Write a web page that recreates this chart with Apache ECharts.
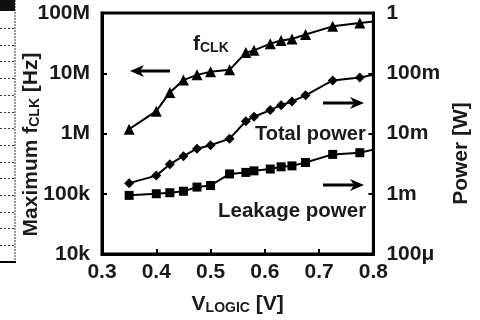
<!DOCTYPE html>
<html>
<head>
<meta charset="utf-8">
<script src="https://cdn.jsdelivr.net/npm/echarts@6/dist/echarts.min.js"></script>
<style>
  html, body { margin: 0; padding: 0; background: #fff; }
  #chart { width: 480px; height: 320px; }
</style>
</head>
<body>
<div id="chart"></div>
<script>
// supply voltage points [V]
const vLogic = [0.35, 0.4, 0.425, 0.45, 0.475, 0.5, 0.535, 0.565, 0.58, 0.61, 0.63, 0.65, 0.675, 0.725, 0.775, 0.8]
// maximum clock frequency [Hz]
const fClk = [1.18e6, 2.35e6, 4.8e6, 7.7e6, 9.4e6, 10.6e6, 11.4e6, 22e6, 24e6, 31e6, 35e6, 37e6, 44e6, 60e6, 68e6, 72e6]
// total power [W]
const totalPower = [1.5e-3, 2.0e-3, 3.1e-3, 4.2e-3, 5.6e-3, 6.4e-3, 8.2e-3, 16e-3, 19e-3, 24.5e-3, 29.5e-3, 34e-3, 43e-3, 76e-3, 85e-3, 94e-3]
// leakage power [W]
const leakPower = [0.94e-3, 1.0e-3, 1.04e-3, 1.1e-3, 1.29e-3, 1.37e-3, 2.13e-3, 2.26e-3, 2.4e-3, 2.57e-3, 2.8e-3, 2.9e-3, 3.3e-3, 4.5e-3, 4.8e-3, 5.4e-3]

// tick labels, one per decade
const fLabels = ['10k', '100k', '1M', '10M', '100M']
const pLabels = ['100μ', '1m', '10m', '100m', '1']

const FONT = 'Liberation Sans, Arial, sans-serif'
const INK = '#1a1a1a'

// build series points; the last point (0.8 V) sits on the frame, no marker
const toPoints = (ys) => vLogic.map((x, i) => {
  if (i === vLogic.length - 1) return { value: [x, ys[i]], symbol: 'none' }
  return [x, ys[i]]
})

const labelStyle = { fontFamily: FONT, fontSize: 21, fontWeight: 'bold', color: INK }
const subRich = {
  sub: { fontFamily: FONT, fontSize: 14, fontWeight: 'bold', color: INK, verticalAlign: 'bottom', padding: [6, 0, 0, 0] }
}

// arrow helper for the annotations
const arrow = (x1, x2, y) => {
  const dir = x2 > x1 ? 1 : -1
  return [
    { type: 'line', shape: { x1: x1, y1: y, x2: x2 - dir * 6, y2: y }, style: { stroke: '#000', lineWidth: 3 } },
    { type: 'polygon', shape: { points: [[x2, y], [x2 - dir * 14, y - 6], [x2 - dir * 10, y], [x2 - dir * 14, y + 6]] }, style: { fill: '#000' } }
  ]
}

// remains of the neighbouring figure at the left edge
const edge = [
  { type: 'rect', shape: { x: 0, y: 0, width: 15, height: 11 }, style: { fill: '#111' } },
  { type: 'line', shape: { x1: 15, y1: 0, x2: 15, y2: 262 }, style: { stroke: '#333', lineWidth: 1, lineDash: [2, 1] } },
  { type: 'line', shape: { x1: 0, y1: 262, x2: 16, y2: 262 }, style: { stroke: '#000', lineWidth: 2 } }
]
for (let k = 0; k < 14; k++) {
  const y = Math.round(28 + k * 16.7) + 0.5
  edge.push({ type: 'line', shape: { x1: 0, y1: y, x2: 15, y2: y }, style: { stroke: '#333', lineWidth: 1, lineDash: [2, 2] } })
}

const chart = echarts.init(document.getElementById('chart'))

chart.setOption({
  animation: false,
  backgroundColor: '#fff',
  grid: {
    left: 102, right: 93, top: 13, bottom: 62,
    show: true, borderColor: '#000', borderWidth: 3
  },
  xAxis: {
    type: 'value',
    min: 0.3, max: 0.8, interval: 0.1,
    axisLine: { lineStyle: { color: '#000', width: 3 } },
    axisTick: { inside: true, length: 5, lineStyle: { color: '#000', width: 2 } },
    splitLine: { show: false },
    axisLabel: Object.assign({ margin: 8, formatter: (v) => v.toFixed(1) }, labelStyle),
    name: 'V{sub|LOGIC} [V]',
    nameLocation: 'middle',
    nameGap: 40,
    nameMoveOverlap: false,
    nameTextStyle: Object.assign({ rich: subRich }, labelStyle)
  },
  yAxis: [
    {
      type: 'log', logBase: 10,
      min: 1e4, max: 1e8,
      position: 'left',
      axisLine: { show: true, lineStyle: { color: '#000', width: 3 } },
      axisTick: { inside: true, length: 5, lineStyle: { color: '#000', width: 2 } },
      minorTick: { show: false },
      splitLine: { show: false },
      axisLabel: Object.assign({ margin: 12, formatter: (v) => fLabels[Math.round(Math.log10(v)) - 4] }, labelStyle),
      name: 'Maximum f{sub|CLK} [Hz]',
      nameLocation: 'middle',
      nameRotate: 90,
      nameGap: 60,
      nameMoveOverlap: false,
      nameTextStyle: Object.assign({ rich: subRich, padding: [0, 22, 0, 0] }, labelStyle)
    },
    {
      type: 'log', logBase: 10,
      min: 1e-4, max: 1,
      position: 'right',
      axisLine: { show: true, lineStyle: { color: '#000', width: 3 } },
      axisTick: { inside: true, length: 5, lineStyle: { color: '#000', width: 2 } },
      minorTick: { show: false },
      splitLine: { show: false },
      axisLabel: Object.assign({ margin: 13, formatter: (v) => pLabels[Math.round(Math.log10(v)) + 4] }, labelStyle),
      name: 'Power [W]',
      nameLocation: 'middle',
      nameRotate: 90,
      nameGap: 62,
      nameTextStyle: Object.assign({ padding: [0, 40, 0, 0] }, labelStyle)
    }
  ],
  series: [
    {
      name: 'fCLK', type: 'line', yAxisIndex: 0,
      symbol: 'triangle', symbolSize: 11,
      lineStyle: { color: '#000', width: 2 },
      itemStyle: { color: '#000' },
      data: toPoints(fClk)
    },
    {
      name: 'Total power', type: 'line', yAxisIndex: 1,
      symbol: 'diamond', symbolSize: 10,
      lineStyle: { color: '#000', width: 2 },
      itemStyle: { color: '#000' },
      data: toPoints(totalPower)
    },
    {
      name: 'Leakage power', type: 'line', yAxisIndex: 1,
      symbol: 'rect', symbolSize: 9,
      lineStyle: { color: '#000', width: 2 },
      itemStyle: { color: '#000' },
      data: toPoints(leakPower)
    }
  ],
  graphic: edge
    .concat(arrow(170, 130, 71))
    .concat(arrow(323, 364, 103))
    .concat(arrow(323, 364, 185))
    .concat([
      {
        type: 'text', left: 193, top: 34,
        style: {
          text: 'f{sub|CLK}', font: 'bold 21px ' + FONT, fill: INK,
          rich: { sub: { font: 'bold 14px ' + FONT, fill: INK, verticalAlign: 'bottom', padding: [6, 0, 0, 0] } }
        }
      },
      { type: 'text', left: 255, top: 124, style: { text: 'Total power', font: 'bold 20px ' + FONT, fill: INK } },
      { type: 'text', left: 218, top: 201, style: { text: 'Leakage power', font: 'bold 20.5px ' + FONT, fill: INK } }
    ])
})
</script>
</body>
</html>
